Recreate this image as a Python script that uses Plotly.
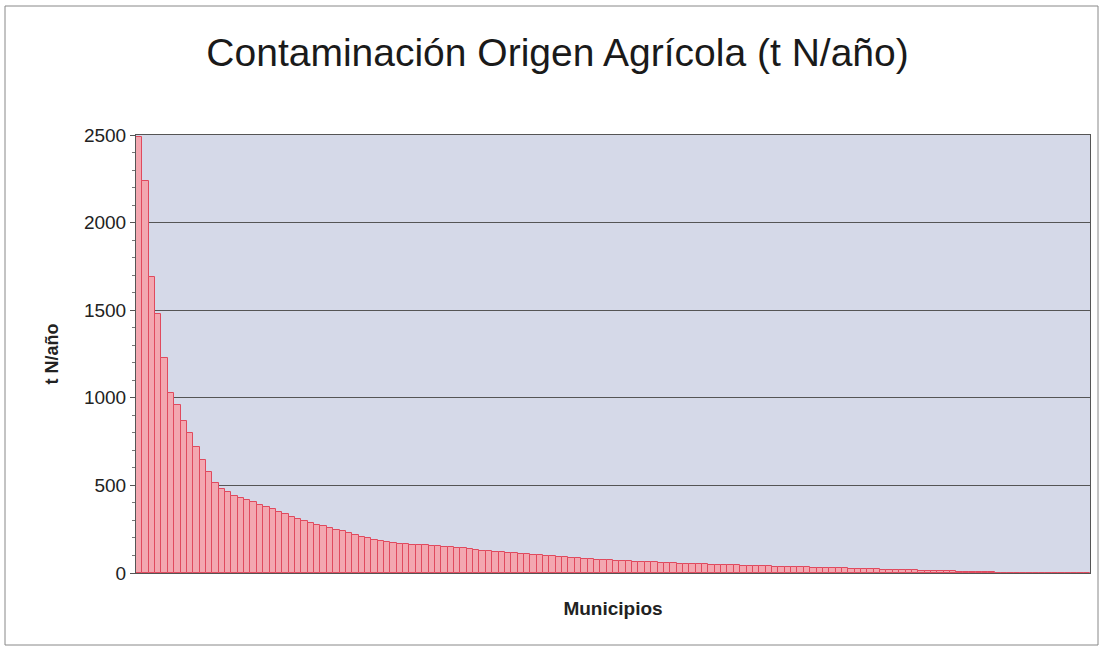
import plotly.graph_objects as go

# t N/año por municipio, ordenado de mayor a menor
valores = [
    2490, 2240, 1690, 1480, 1230, 1030, 960, 870, 800, 720,
    645, 575, 515, 478, 460, 440, 428, 418, 405, 390,
    378, 365, 350, 335, 322, 310, 298, 287, 276, 266,
    257, 247, 237, 228, 218, 208, 198, 189, 182, 176,
    172, 168, 165, 162, 160, 158, 155, 152, 149, 146,
    143, 140, 136, 132, 128, 124, 121, 118, 115, 112,
    109, 106, 103, 100, 97, 95, 92, 89, 86, 84,
    81, 78, 76, 74, 72, 70, 68, 66, 64, 63,
    61, 60, 58, 57, 56, 54, 53, 52, 50, 49,
    47, 46, 45, 44, 43, 42, 41, 40, 39, 38,
    37, 36, 35, 34, 33, 32, 31, 30, 29, 28,
    27, 26, 25, 24, 23, 22, 21, 20, 19, 18,
    17, 16, 15, 14, 13, 12, 11, 10, 9, 8,
    7, 6, 5, 4, 3, 2.5, 2, 2, 1.5, 1.5,
    1, 1, 1, 0.8, 0.6, 0.5, 0.4, 0.3, 0.2, 0.1,
]
municipios = list(range(1, len(valores) + 1))

y_ticks = [0, 500, 1000, 1500, 2000, 2500]

fig = go.Figure()
fig.add_trace(go.Bar(
    x=municipios, y=valores,
    marker=dict(color="#f3a7b0", line=dict(color="#e04a5e", width=1)),
    showlegend=False,
))

fig.update_layout(
    width=1104, height=651,
    margin=dict(l=136, r=14, t=135, b=78),
    paper_bgcolor="white",
    plot_bgcolor="#d5d9e8",
    bargap=0,
    font=dict(family="Liberation Sans, Arial, sans-serif", color="#222222"),
    title=dict(text="Contaminación Origen Agrícola (t N/año)",
               x=0.505, xanchor="center", y=0.92, yanchor="middle",
               font=dict(size=39, color="#1a1a1a")),
)

fig.update_xaxes(
    range=[0.5, len(valores) + 0.5],
    showticklabels=False, ticks="",
    showgrid=False, zeroline=False,
    showline=True, linecolor="#555555", linewidth=1, mirror=True,
    title=dict(text="<b>Municipios</b>", font=dict(size=19, color="#222222"), standoff=28),
)
fig.update_yaxes(
    range=[0, 2500], tickvals=y_ticks,
    ticks="outside", ticklen=5, tickcolor="#555555",
    minor=dict(dtick=100, ticks="outside", ticklen=3, tickcolor="#777777", showgrid=False),
    showgrid=True, gridcolor="#555555", gridwidth=1,
    zeroline=False,
    showline=True, linecolor="#555555", linewidth=1, mirror=True,
    tickfont=dict(size=19, color="#222222"),
    title=dict(text="<b>t N/año</b>", font=dict(size=18, color="#222222"), standoff=20),
)

# marco exterior del gráfico
fig.add_shape(type="rect", xref="paper", yref="paper",
              x0=-131 / 954, x1=(1098 - 136) / 954,
              y0=-72 / 438, y1=(438 + 129) / 438,
              line=dict(color="#888888", width=1), fillcolor="rgba(0,0,0,0)", layer="below")

fig.write_html("out.html", config={"displayModeBar": False},
               post_script="document.body.style.margin='0';")
